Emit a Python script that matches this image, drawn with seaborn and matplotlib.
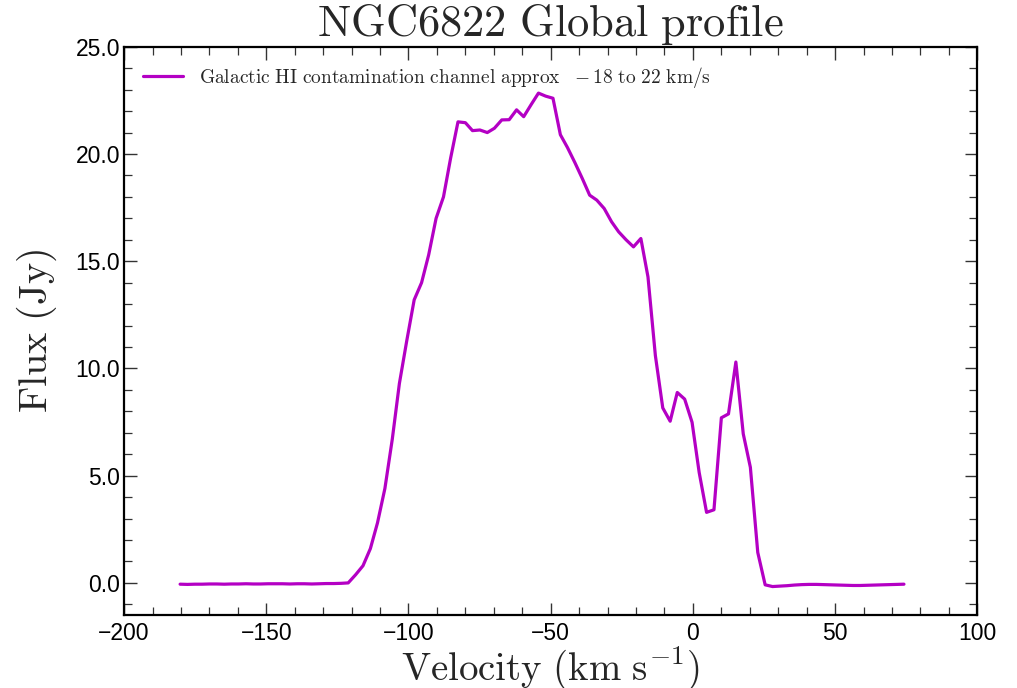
import matplotlib
matplotlib.use("Agg")
import matplotlib.pyplot as plt
import seaborn as sns
import pandas as pd
from matplotlib.ticker import MultipleLocator, FormatStrFormatter

velocity = [-180.3, -177.7, -175.1, -172.6, -170.0, -167.4, -164.8, -162.3, -159.7, -157.1,
            -154.6, -152.0, -149.4, -146.9, -144.3, -141.7, -139.1, -136.6, -134.0, -131.4,
            -128.9, -126.3, -123.7, -121.2, -118.6, -116.0, -113.4, -110.9, -108.3, -105.7,
            -103.2, -100.6, -98.0, -95.4, -92.9, -90.3, -87.7, -85.2, -82.6, -80.0,
            -77.5, -74.9, -72.3, -69.8, -67.2, -64.6, -62.0, -59.5, -56.9, -54.3,
            -51.8, -49.2, -46.6, -44.1, -41.5, -38.9, -36.3, -33.8, -31.2, -28.6,
            -26.1, -23.5, -20.9, -18.3, -15.8, -13.2, -10.6, -8.0, -5.5, -2.9,
            -0.3, 2.2, 4.8, 7.4, 10.0, 12.5, 15.1, 17.7, 20.2, 22.8,
            25.4, 28.0, 30.5, 33.1, 35.7, 38.3, 40.8, 43.4, 46.0, 48.5,
            51.1, 53.7, 56.3, 58.8, 61.4, 64.0, 66.5, 69.1, 71.7, 74.2]

flux = [-0.06, -0.07, -0.06, -0.06, -0.05, -0.05, -0.06, -0.05, -0.05, -0.04,
        -0.05, -0.05, -0.04, -0.04, -0.04, -0.05, -0.04, -0.04, -0.05, -0.04,
        -0.03, -0.03, -0.02, 0.0, 0.38, 0.8, 1.6, 2.8, 4.4, 6.7,
        9.3, 11.3, 13.2, 14.0, 15.3, 17.0, 18.0, 19.8, 21.5, 21.46,
        21.09, 21.12, 21.0, 21.2, 21.59, 21.6, 22.06, 21.74, 22.3, 22.84,
        22.7, 22.6, 20.9, 20.3, 19.6, 18.86, 18.08, 17.85, 17.46, 16.84,
        16.37, 16.0, 15.67, 16.06, 14.27, 10.6, 8.16, 7.54, 8.88, 8.57,
        7.49, 5.15, 3.29, 3.41, 7.7, 7.88, 10.3, 6.95, 5.39, 1.42,
        -0.09, -0.17, -0.15, -0.13, -0.1, -0.08, -0.07, -0.07, -0.08, -0.09,
        -0.1, -0.11, -0.12, -0.12, -0.11, -0.1, -0.09, -0.08, -0.07, -0.06]

legend_label = r"$\mathrm{Galactic\ HI\ contamination\ channel\ approx\ \ }-18\mathrm{\ to\ 22\ km/s}$"
title = r"$\mathrm{NGC6822\ Global\ profile}$"
xlabel = r"$\mathrm{Velocity\ (km\ s^{-1})}$"
ylabel = r"$\mathrm{Flux\ (Jy)}$"

sns.set_style("ticks")
plt.rcParams["font.family"] = ["Liberation Sans", "DejaVu Sans"]
plt.rcParams["mathtext.fontset"] = "cm"

df = pd.DataFrame({"Velocity": velocity, "Flux": flux, "series": legend_label})

fig = plt.figure(figsize=(10.17, 6.88), dpi=100)
ax = fig.add_axes([0.122, 0.106, 0.839, 0.826])

sns.lineplot(data=df, x="Velocity", y="Flux", hue="series", palette=["#b400c4"],
             linewidth=2.3, ax=ax, sort=False)

ax.set_xlim(-200, 100)
ax.set_ylim(-1.5, 25)
ax.xaxis.set_major_locator(MultipleLocator(50))
ax.xaxis.set_minor_locator(MultipleLocator(10))
ax.yaxis.set_major_locator(MultipleLocator(5))
ax.yaxis.set_minor_locator(MultipleLocator(1))
ax.yaxis.set_major_formatter(FormatStrFormatter("%.1f"))
ax.tick_params(which="both", direction="in", top=True, right=True,
               labelsize=16.5, color="#333333", labelcolor="black")
ax.tick_params(which="major", length=9, width=1.0)
ax.tick_params(which="minor", length=5.5, width=0.9)
ax.tick_params(axis="x", which="major", pad=5)
ax.tick_params(axis="y", which="major", pad=3)
for s in ax.spines.values():
    s.set_linewidth(1.6)
    s.set_color("black")

ax.set_title(title, fontsize=32, pad=3)
ax.set_xlabel(xlabel, fontsize=28, labelpad=0)
ax.set_ylabel(ylabel, fontsize=29, labelpad=12)

leg = ax.legend(loc="upper left", frameon=False, fontsize=14,
                handlelength=2.1, borderaxespad=0.55)

fig.savefig("out.png", dpi=100)
